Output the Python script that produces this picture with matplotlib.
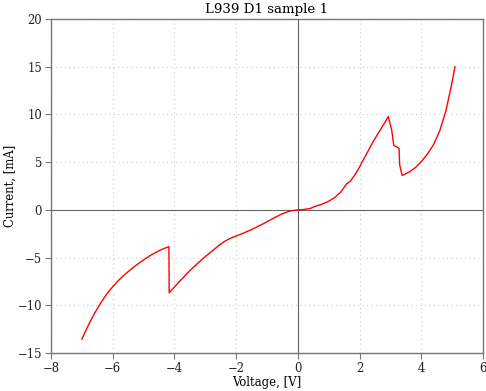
import matplotlib
matplotlib.use("Agg")
import matplotlib.pyplot as plt

plt.rcParams['font.family'] = ['DejaVu Serif']

# Measured I-V sweep: voltage [V] and current [mA]
voltage = [-7.0, -6.8, -6.6, -6.4, -6.2, -6.0, -5.8, -5.6, -5.4, -5.2,
           -5.0, -4.8, -4.6, -4.4, -4.18, -4.17,
           -4.0, -3.8, -3.6, -3.4, -3.2, -3.0, -2.8, -2.6, -2.4, -2.2, -2.05,
           -1.8, -1.56, -1.3, -1.0, -0.75, -0.5, -0.25, 0.0,
           0.2, 0.4, 0.55, 0.8, 0.98, 1.2, 1.4, 1.58, 1.69, 1.85,
           2.0, 2.12, 2.3, 2.44, 2.6, 2.8, 2.93,
           3.04, 3.11, 3.28, 3.3, 3.38,
           3.6, 3.8, 4.0, 4.2, 4.4, 4.6, 4.8, 5.0, 5.09]
current = [-13.55, -12.15, -10.9, -9.8, -8.85, -8.05, -7.35, -6.75, -6.2, -5.7,
           -5.25, -4.82, -4.45, -4.13, -3.85, -8.7,
           -8.08, -7.38, -6.7, -6.06, -5.46, -4.9, -4.36, -3.84, -3.35, -3.0, -2.8,
           -2.48, -2.15, -1.75, -1.25, -0.8, -0.4, -0.12, 0.0,
           0.04, 0.15, 0.35, 0.62, 0.87, 1.3, 1.9, 2.73, 2.97, 3.67,
           4.5, 5.24, 6.3, 7.16, 8.0, 9.05, 9.78,
           8.39, 6.74, 6.46, 4.72, 3.6,
           3.95, 4.4, 5.05, 5.85, 6.85, 8.3, 10.4, 13.4, 15.0]

x_ticks = [-8, -6, -4, -2, 0, 2, 4, 6]
y_ticks = [-15, -10, -5, 0, 5, 10, 15, 20]

fig = plt.figure(figsize=(4.86, 3.91), dpi=100)
ax = fig.add_axes([0.105, 0.0972, 0.8888, 0.8542])

ax.plot(voltage, current, color='red', lw=1.0, zorder=3)
ax.axhline(0, color='#666666', lw=0.8, zorder=2)
ax.axvline(0, color='#666666', lw=0.8, zorder=2)

ax.set_xlim(-8, 6)
ax.set_ylim(-15, 20)
ax.set_xticks(x_ticks)
ax.set_yticks(y_ticks)
ax.set_xticklabels([f"{t}".replace('-', '\u2212') for t in x_ticks])
ax.set_yticklabels([f"{t}".replace('-', '\u2212') for t in y_ticks])

ax.grid(True, linestyle=(0, (1, 3)), color='#cccccc', lw=0.8)
ax.set_axisbelow(True)

for side in ['left', 'right', 'top', 'bottom']:
    ax.spines[side].set_color('#777777')
    ax.spines[side].set_linewidth(1.0)
ax.tick_params(direction='out', length=4, pad=2.5, color='#777777', labelsize=8.4,
               top=False, right=False, labelcolor='#222222')

ax.set_title("L939 D1 sample 1", fontsize=9.6, pad=4)
ax.set_xlabel("Voltage, [V]", fontsize=8.4, va='center')
ax.set_ylabel("Current, [mA]", fontsize=8.4, va='center')
ax.xaxis.set_label_coords(0.5, -0.087)
ax.yaxis.set_label_coords(-0.095, 0.5)

fig.savefig("out.png", dpi=100)
